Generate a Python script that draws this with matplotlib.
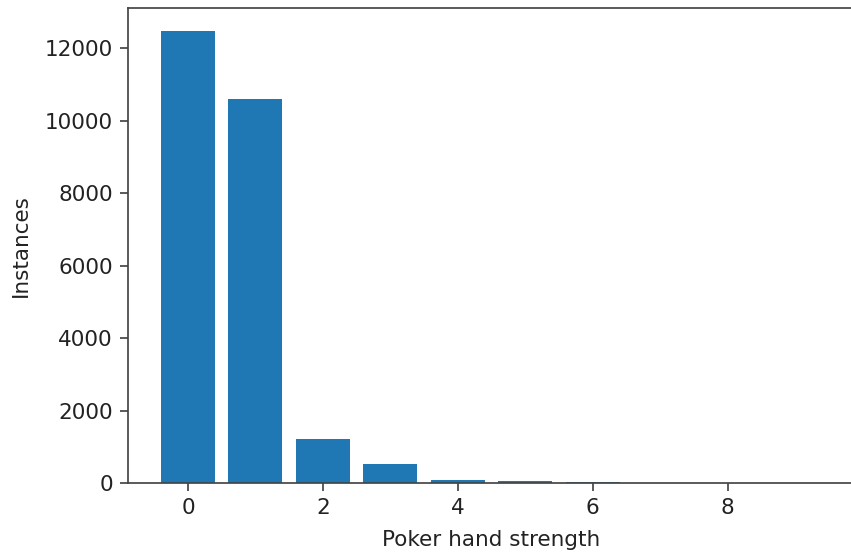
import matplotlib
matplotlib.use("Agg")
import matplotlib.pyplot as plt

# Poker hand class counts
hand_strength = [0, 1, 2, 3, 4, 5, 6, 7, 8, 9]
instances = [12493, 10599, 1206, 513, 93, 54, 36, 6, 5, 5]

DPI = 155
fig = plt.figure(figsize=(851 / DPI, 554 / DPI), dpi=DPI)
ax = fig.add_axes([128 / 851, 71 / 554, 727 / 851, 475 / 554])

ax.bar(hand_strength, instances, color="#1f77b4")
ax.set_xlabel("Poker hand strength", labelpad=5.5, color="#222222")
ax.set_ylabel("Instances", labelpad=6.5, color="#222222")
ax.tick_params(colors="#444444", labelcolor="#222222")
for s in ax.spines.values():
    s.set_color("#444444")

fig.savefig("out.png", dpi=DPI)
